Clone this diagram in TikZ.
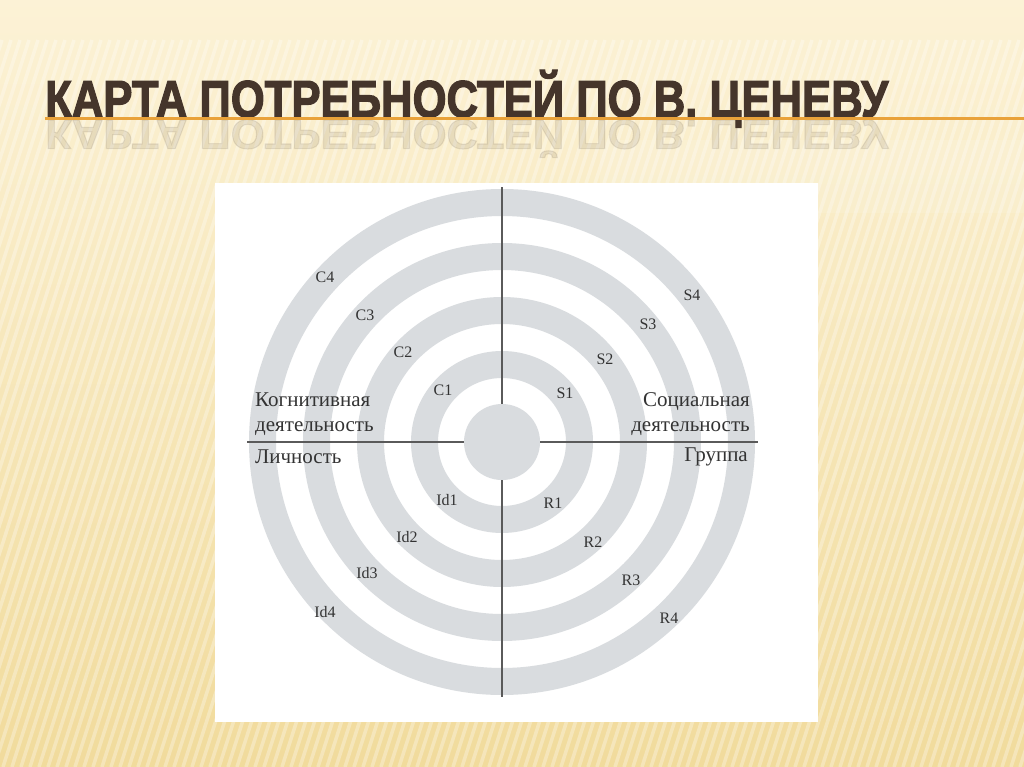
\documentclass[tikz,border=0pt]{standalone}
\usepackage{fontspec}
\setmainfont{Liberation Serif}
\newfontfamily\titlefont[FakeBold=2.5]{Liberation Sans}
\usepackage{graphicx}

\definecolor{bgtop}{HTML}{FCF2D6}
\definecolor{bgbot}{HTML}{F1DB9C}
\definecolor{titlebrown}{HTML}{45352B}
\definecolor{ruleorange}{HTML}{E9A23A}
\definecolor{ringgray}{HTML}{D9DCDF}
\definecolor{axisgray}{HTML}{5A5A5A}
\definecolor{labelgray}{HTML}{333333}

\def\rings{4}
\def\ringw{27}
\def\ringstep{54}

\newcommand{\titlebox}{\resizebox{843pt}{\height}{\titlefont\bfseries\fontsize{52}{52}\selectfont КАРТА ПОТРЕБНОСТЕЙ ПО В. ЦЕНЕВУ}}

\tikzset{
  code/.style={text=labelgray, font=\fontsize{16}{16}\selectfont, inner sep=0pt},
  area/.style={text=labelgray, font=\fontsize{21}{25}\selectfont, inner sep=0pt},
  axis/.style={draw=axisgray, line width=1.3pt},
}

\begin{document}
\begin{tikzpicture}[x=1pt,y=-1pt]
    \useasboundingbox (0,0) rectangle (1024,767);
    % background
    \fill[top color=bgtop, bottom color=bgbot] (0,0) rectangle (1024,767);
    \foreach \i in {0,...,142} {
        \draw[white, opacity=0.3, line width=3.5pt] ({\i*9-240},767) -- ({\i*9-7},40);
    }
    \fill[white, opacity=0.12] (600,140) rectangle (1024,213);
    % title
    \node[anchor=base west, inner sep=0pt, text=titlebrown, opacity=0.1] (mirror) at (45,120) {\scalebox{1}[-0.8]{\titlebox}};
    \node[anchor=base west, inner sep=0pt, text=titlebrown] (title) at (45,117) {\titlebox};
    \draw[ruleorange, line width=2.5pt] (45,118.5) -- (1024,118.5);
    % panel
    \fill[white] (215,183) rectangle (818,722);
    \coordinate (c) at (502,442);
    \foreach \k [evaluate={\ri=64+(\k-1)*\ringstep}, evaluate={\ro=\ri+\ringw}] in {1,...,\rings} {
        \fill[ringgray, even odd rule] (c) circle (\ro pt) (c) circle (\ri pt);
    }
    \node[circle, fill=ringgray, minimum size=76pt, inner sep=0pt] (core) at (c) {};
    \coordinate (top) at (502,187);
    \coordinate (bot) at (502,697);
    \coordinate (lft) at (247,442);
    \coordinate (rgt) at (758,442);
    \draw[axis] (core.north) -- (top);
    \draw[axis] (core.south) -- (bot);
    \draw[axis] (core.west) -- (lft);
    \draw[axis] (core.east) -- (rgt);
    % ring labels
    \foreach \n/\x/\y in {C4/325/277, C3/365/315, C2/403/352, C1/443/390,
                          S4/692/295, S3/648/324, S2/605/359, S1/565/393,
                          Id1/447/500, Id2/407/537, Id3/367/573, Id4/325/612,
                          R1/553/503, R2/593/542, R3/631/580, R4/669/618} {
        \node[code] (lab-\n) at (\x,\y) {\n};
    }
    % sector names
    \node[area, align=left, anchor=west] (cogn) at (255,414.5) {Когнитивная\\деятельность};
    \node[area, align=right, anchor=east] (soc) at (750,414.5) {Социальная\\деятельность};
    \node[area, anchor=west] (pers) at (255,457) {Личность};
    \node[area, anchor=east] (grp) at (748,457) {Группа};
\end{tikzpicture}
\end{document}
